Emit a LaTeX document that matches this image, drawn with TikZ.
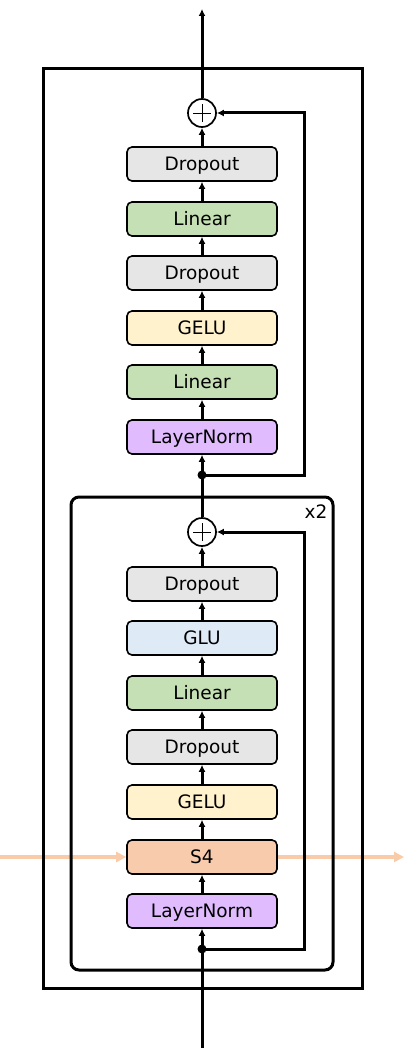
\documentclass[tikz,border=0pt]{standalone}
\usepackage{fontspec}
\setmainfont{DejaVu Sans}
\usetikzlibrary{arrows.meta}
\definecolor{cdrop}{HTML}{E6E6E6}
\definecolor{clin}{HTML}{C5E0B4}
\definecolor{cgelu}{HTML}{FFF2CC}
\definecolor{cln}{HTML}{E0BCFE}
\definecolor{cglu}{HTML}{DEEAF6}
\definecolor{cs4}{HTML}{F8CBAD}
\definecolor{corange}{HTML}{F9CBA8}
\begin{document}
\begin{tikzpicture}[x=1pt,y=-1pt,
  blk/.style={draw, line width=1.6pt, rounded corners=5pt, minimum width=150pt, minimum height=34pt, inner sep=0pt,
    text height=13.5pt, text depth=0pt, font=\fontsize{18.5}{21}\selectfont},
  conn/.style={line width=3pt, -{Latex[length=7pt,width=7pt]}},
  frame/.style={line width=3pt},
  plusnode/.style={draw, circle, line width=1.7pt, minimum size=28pt, inner sep=0pt, fill=white,
    path picture={\draw[line width=0.8pt] ([xshift=-9pt]path picture bounding box.center) -- ([xshift=9pt]path picture bounding box.center);
                  \draw[line width=0.8pt] ([yshift=-9pt]path picture bounding box.center) -- ([yshift=9pt]path picture bounding box.center);}},
  dotnode/.style={fill=black, circle, minimum size=9pt, inner sep=0pt},
  orangearrow/.style={draw=corange, line width=3.5pt, -{Triangle[length=10pt,width=10pt]}}
]
\useasboundingbox (0,0) rectangle (415,1048);

\coordinate (inp) at (202,1048);
\coordinate (outp) at (202,9);
\coordinate (oleft) at (0,857);
\coordinate (oright) at (404,857);

% inner block nodes
\node[blk, fill=cln] (iln) at (202,911) {LayerNorm};
\node[blk, fill=cs4] (is4) at (202,857) {S4};
\node[blk, fill=cgelu] (igelu) at (202,802) {GELU};
\node[blk, fill=cdrop] (idrop1) at (202,747) {Dropout};
\node[blk, fill=clin] (ilin) at (202,693) {Linear};
\node[blk, fill=cglu] (iglu) at (202,638) {GLU};
\node[blk, fill=cdrop] (idrop2) at (202,584) {Dropout};
\node[plusnode] (iplus) at (202,532) {};

% outer block nodes
\node[blk, fill=cln] (oln) at (202,437) {LayerNorm};
\node[blk, fill=clin] (olin1) at (202,382) {Linear};
\node[blk, fill=cgelu] (ogelu) at (202,328) {GELU};
\node[blk, fill=cdrop] (odrop1) at (202,273) {Dropout};
\node[blk, fill=clin] (olin2) at (202,219) {Linear};
\node[blk, fill=cdrop] (odrop2) at (202,164) {Dropout};
\node[plusnode] (oplus) at (202,113) {};

% orange S4 line (behind the frames)
\draw[orangearrow] (oleft) -- (is4.west);
\draw[orangearrow] (is4.east) -- (oright);

% frames
\draw[frame] (43,69) rectangle (362,988);
\draw[frame, rounded corners=8pt] (71,497) rectangle (333,970);
\node[font=\fontsize{18.5}{21}\selectfont] (rep) at (316,512) {x2};

% main path
\draw[conn] (inp) -- (iln.south);
\draw[conn] (iln.north) -- (is4.south);
\draw[conn] (is4.north) -- (igelu.south);
\draw[conn] (igelu.north) -- (idrop1.south);
\draw[conn] (idrop1.north) -- (ilin.south);
\draw[conn] (ilin.north) -- (iglu.south);
\draw[conn] (iglu.north) -- (idrop2.south);
\draw[conn] (idrop2.north) -- (iplus.south);
\draw[conn] (iplus.north) -- (oln.south);
\draw[conn] (oln.north) -- (olin1.south);
\draw[conn] (olin1.north) -- (ogelu.south);
\draw[conn] (ogelu.north) -- (odrop1.south);
\draw[conn] (odrop1.north) -- (olin2.south);
\draw[conn] (olin2.north) -- (odrop2.south);
\draw[conn] (odrop2.north) -- (oplus.south);
\draw[conn] (oplus.north) -- (outp);

% skip connections
\node[dotnode] (idot) at (202,949) {};
\node[dotnode] (odot) at (202,475) {};
\draw[conn] (idot.center) -- (304,949) -- (304,532) -- (iplus.east);
\draw[conn] (odot.center) -- (304,475) -- (304,113) -- (oplus.east);
\end{tikzpicture}
\end{document}
